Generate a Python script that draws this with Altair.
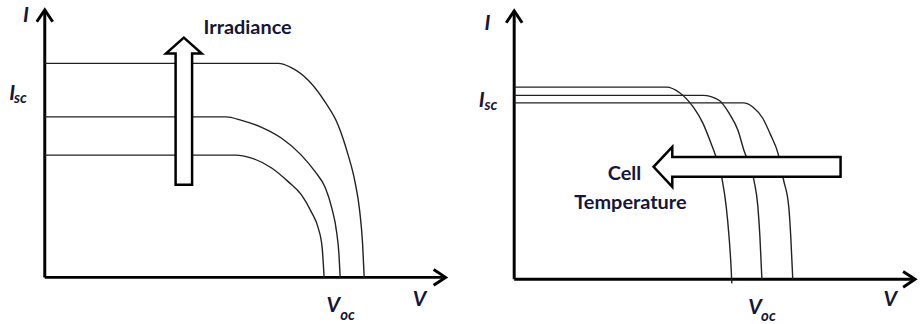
import altair as alt
import pandas as pd

# ---------------------------------------------------------------------------
# I–V characteristics of a PV cell (V and I in arbitrary units, axes run 0..100)
# ---------------------------------------------------------------------------

# Irradiance panel: three curves, highest irradiance on top
irr_high_v = [0, 58.3, 61.5, 65.8, 70.0, 73.2, 75.7, 77.4, 78.6, 79.3, 79.7]
irr_high_i = [80, 80, 78.4, 73.6, 65.4, 56.9, 45.7, 35.7, 24.5, 12.5, 0]
irr_mid_v = [0, 45.2, 49.1, 54.1, 59.1, 64.0, 67.5, 70.0, 71.6, 72.8, 73.4, 73.7]
irr_mid_i = [60, 60, 58.7, 56.1, 52.0, 45.7, 39.4, 33.5, 26.0, 17.1, 8.6, 0]
irr_low_v = [0, 47.6, 51.6, 56.6, 60.8, 64.0, 66.5, 68.2, 69.2, 69.7]
irr_low_i = [45.7, 45.7, 44.6, 40.9, 35.7, 30.9, 24.5, 18.6, 11.2, 0]

# Cell-temperature panel: three curves, hottest cell on the left
temp_hot_v = [0, 38.0, 41.2, 44.7, 47.1, 49.1, 50.6, 51.9, 52.9, 53.6, 54.1, 54.3]
temp_hot_i = [71.6, 71.6, 69.6, 64.1, 58.1, 50.7, 44.4, 37.0, 27.0, 15.9, 4.8, -1.5]
temp_mid_v = [0, 47.1, 51.1, 53.6, 55.8, 57.3, 59.8, 60.8, 61.3, 61.8]
temp_mid_i = [68.5, 68.5, 66.7, 61.9, 55.6, 48.1, 37.0, 27.0, 15.9, 0]
temp_cold_v = [0, 57.1, 59.6, 62.0, 64.0, 65.8, 67.2, 68.5, 69.0, 69.5]
temp_cold_i = [65.7, 65.7, 64.1, 60.0, 53.7, 47.0, 37.0, 27.0, 15.9, 0]

# Axis lines: (v, i) -> (v2, i2)
axis_v = [0, 0]
axis_i = [0, 0]
axis_v2 = [100, 0]
axis_i2 = [0, 100]
tip_angle = [90, 0]

# Text labels: [v, i, text]
left_letters = [(-4.7, 95.5, "I"), (93.5, -10.8, "V")]
left_main_sub = [(-7.4, 66.2, "I"), (73.7, -13.0, "V")]
left_subs = [(-7.7, 65.1, "sc"), (73.7, -16.0, "oc")]
right_letters = [(-6.7, 93.0, "I"), (93.8, -10.0, "V")]
right_main_sub = [(-7.4, 64.1, "I"), (61.8, -13.0, "V")]
right_subs = [(-7.4, 63.0, "sc"), (61.6, -15.6, "oc")]

irr_note = [(50.6, 91.1, "Irradiance")]
temp_note = [(27.5, 37.0, "Cell"), (29.0, 26.3, "Temperature")]

# Direction arrows: centre position in data units
irr_arrow = [(34.7, 62.1)]
temp_arrow = [(58.1, 41.9)]

# Symbol paths (unit box) for the block arrows and the axis chevrons
UP_ARROW = ("M -0.112 1 L 0.112 1 L 0.112 -0.784 L 0.243 -0.784 L 0 -1 "
            "L -0.243 -0.784 L -0.112 -0.784 Z")
LEFT_ARROW = ("M 1 -0.106 L -0.80 -0.106 L -0.80 -0.213 L -1 0 L -0.80 0.213 "
              "L -0.80 0.106 L 1 0.106 Z")
CHEVRON = "M -0.8 1.2 L 0 0 L 0.8 1.2"

FONT = "Lato"
INK = "#16163a"


def curves_frame(series):
    rows = []
    for name, vs, is_ in series:
        for v, i in zip(vs, is_):
            rows.append({"curve": name, "v": v, "i": i})
    return pd.DataFrame(rows)


def text_frame(items):
    return pd.DataFrame([{"v": v, "i": i, "label": t} for v, i, t in items])


def panel(curves, letters, main_sub, subs, notes, arrow_pos, arrow_shape,
          arrow_size, xdom, ydom, width):
    xs = alt.Scale(domain=xdom, nice=False, zero=False)
    ys = alt.Scale(domain=ydom, nice=False, zero=False)
    X = alt.X("v:Q", scale=xs, axis=None)
    Y = alt.Y("i:Q", scale=ys, axis=None)

    axes_df = pd.DataFrame({"v": axis_v, "i": axis_i, "v2": axis_v2,
                            "i2": axis_i2, "angle": tip_angle})
    axes = alt.Chart(axes_df).mark_rule(color="black", strokeWidth=3).encode(
        x=X, y=Y, x2="v2:Q", y2="i2:Q")
    tips = alt.Chart(axes_df).mark_point(
        shape=CHEVRON, size=400, filled=False, stroke="black",
        strokeWidth=3, opacity=1, strokeJoin="miter"
    ).encode(x=alt.X("v2:Q", scale=xs, axis=None),
             y=alt.Y("i2:Q", scale=ys, axis=None),
             angle=alt.Angle("angle:Q", scale=None))

    lines = alt.Chart(curves).mark_line(
        interpolate="monotone", color="#222222", strokeWidth=1.4
    ).encode(x=X, y=Y, detail="curve:N")

    arrow = alt.Chart(pd.DataFrame(arrow_pos, columns=["v", "i"])).mark_point(
        shape=arrow_shape, size=arrow_size, filled=True, fill="white",
        stroke="black", strokeWidth=2.5, opacity=1, strokeJoin="miter"
    ).encode(x=X, y=Y)

    letter_txt = alt.Chart(text_frame(letters)).mark_text(
        font=FONT, fontSize=21, fontWeight="bold", fontStyle="italic",
        color=INK, align="center", baseline="alphabetic"
    ).encode(x=X, y=Y, text="label:N")
    main_txt = alt.Chart(text_frame(main_sub)).mark_text(
        font=FONT, fontSize=21, fontWeight="bold", fontStyle="italic",
        color=INK, align="right", baseline="alphabetic"
    ).encode(x=X, y=Y, text="label:N")
    sub_txt = alt.Chart(text_frame(subs)).mark_text(
        font=FONT, fontSize=15, fontWeight="bold", fontStyle="italic",
        color=INK, align="left", baseline="alphabetic"
    ).encode(x=X, y=Y, text="label:N")
    note_txt = alt.Chart(text_frame(notes)).mark_text(
        font=FONT, fontSize=20, fontWeight="bold", color=INK,
        align="center", baseline="alphabetic"
    ).encode(x=X, y=Y, text="label:N")

    return alt.layer(axes, tips, lines, arrow, letter_txt, main_txt, sub_txt,
                     note_txt).properties(width=width, height=324)


left = panel(
    curves_frame([("high", irr_high_v, irr_high_i),
                  ("mid", irr_mid_v, irr_mid_i),
                  ("low", irr_low_v, irr_low_i)]),
    left_letters, left_main_sub, left_subs, irr_note,
    irr_arrow, UP_ARROW, 148 ** 2,
    [-11.17, 102.98], [-17.1, 103.35], 460)

right = panel(
    curves_frame([("hot", temp_hot_v, temp_hot_i),
                  ("mid", temp_mid_v, temp_mid_i),
                  ("cold", temp_cold_v, temp_cold_i)]),
    right_letters, right_main_sub, right_subs, temp_note,
    temp_arrow, LEFT_ARROW, 188 ** 2,
    [-14.14, 100.25], [-16.3, 103.7], 461)

chart = alt.hconcat(left, right, spacing=0).properties(
    padding=0, background="white"
).configure_view(stroke=None)

chart.save("out.html", embed_options={"renderer": "svg", "actions": False})
